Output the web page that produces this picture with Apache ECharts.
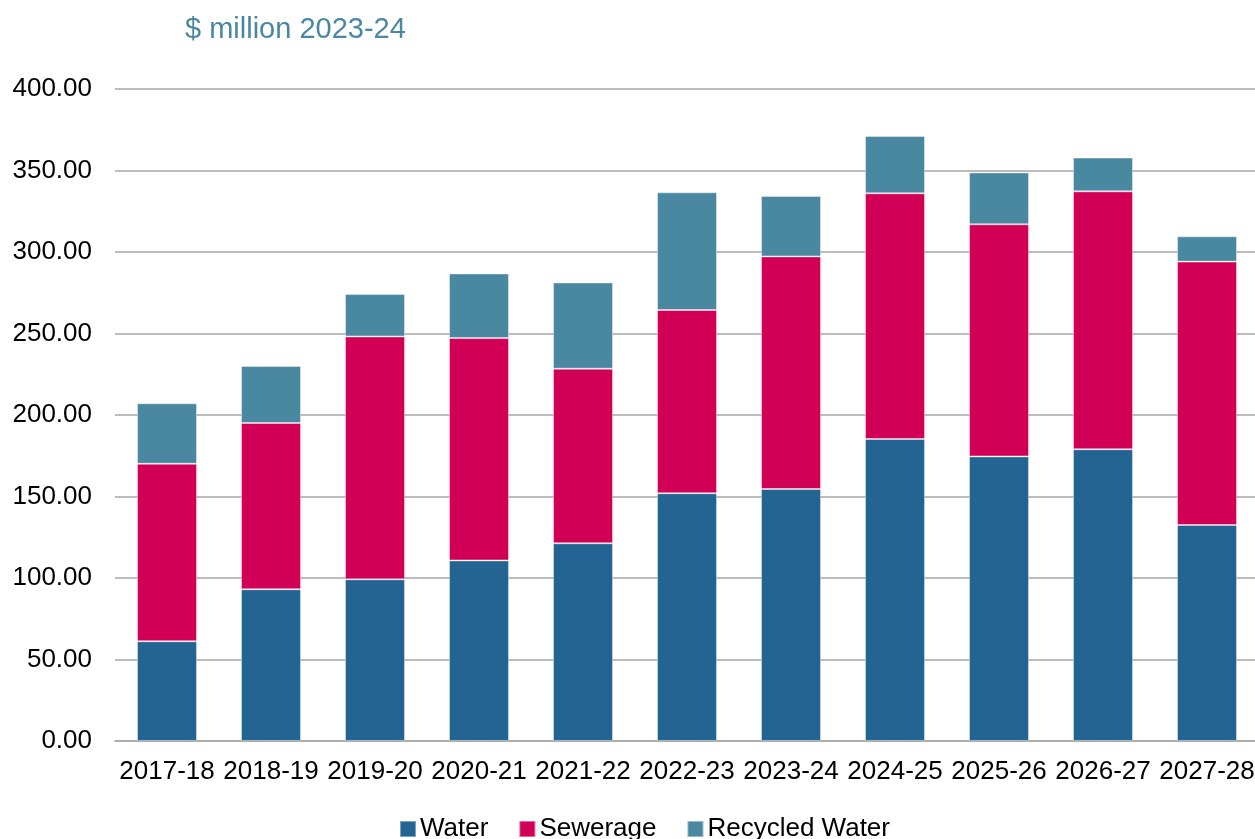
<!DOCTYPE html>
<html>
<head>
<meta charset="utf-8">
<script src="https://cdn.jsdelivr.net/npm/echarts@6/dist/echarts.min.js"></script>
<style>
html,body{margin:0;padding:0;background:#fff;overflow:hidden;}
#chart{width:1259px;height:839px;}
</style>
</head>
<body>
<div id="chart"></div>
<script>
const categories = ["2017-18","2018-19","2019-20","2020-21","2021-22","2022-23","2023-24","2024-25","2025-26","2026-27","2027-28"];
const water = [61.2, 93.1, 99.2, 110.8, 121.3, 152.0, 154.6, 185.3, 174.6, 179.0, 132.5];
const sewerage = [108.9, 102.0, 149.0, 136.4, 107.1, 112.4, 142.7, 150.7, 142.4, 158.2, 161.6];
const recycled = [37.1, 35.0, 26.0, 39.6, 52.9, 72.2, 37.1, 35.2, 31.8, 20.7, 15.5];
const titleText = "$ million 2023-24";

const chart = echarts.init(document.getElementById('chart'));
const font = "'Liberation Sans', Arial, sans-serif";
const barStyle = (c) => ({ color: c, borderColor: 'rgba(255,255,255,0.4)', borderWidth: 1 });
chart.setOption({
  animation: false,
  textStyle: { fontFamily: font },
  title: {
    text: titleText, left: 180, top: 10,
    textStyle: { color: '#4a88a2', fontSize: 29, fontWeight: 'normal', fontFamily: font }
  },
  legend: {
    data: ['Water', 'Sewerage', 'Recycled Water'],
    top: 811, left: 394,
    itemWidth: 16, itemHeight: 16, itemGap: 30,
    icon: 'rect',
    textStyle: { fontSize: 26, color: '#000', fontFamily: font, padding: [0, 0, 0, -1] }
  },
  grid: { left: 115, right: 0, top: 89, bottom: 98, containLabel: false },
  xAxis: {
    type: 'category', data: categories,
    axisLine: { lineStyle: { color: '#a6a6a6', width: 1.5 } },
    axisTick: { show: false },
    axisLabel: { fontSize: 26, color: '#000', margin: 18, interval: 0, fontFamily: font }
  },
  yAxis: {
    type: 'value', min: 0, max: 400, interval: 50,
    axisLine: { show: false }, axisTick: { show: false },
    splitLine: { lineStyle: { color: '#a6a6a6', width: 1.5 } },
    axisLabel: { fontSize: 26, color: '#000', margin: 23, fontFamily: font,
      formatter: v => v.toFixed(2) }
  },
  series: [
    { name: 'Water', type: 'bar', stack: 't', data: water, barWidth: 60, itemStyle: barStyle('#246492') },
    { name: 'Sewerage', type: 'bar', stack: 't', data: sewerage, barWidth: 60, itemStyle: barStyle('#d10056') },
    { name: 'Recycled Water', type: 'bar', stack: 't', data: recycled, barWidth: 60, itemStyle: barStyle('#4a88a2') }
  ]
});
</script>
</body>
</html>
